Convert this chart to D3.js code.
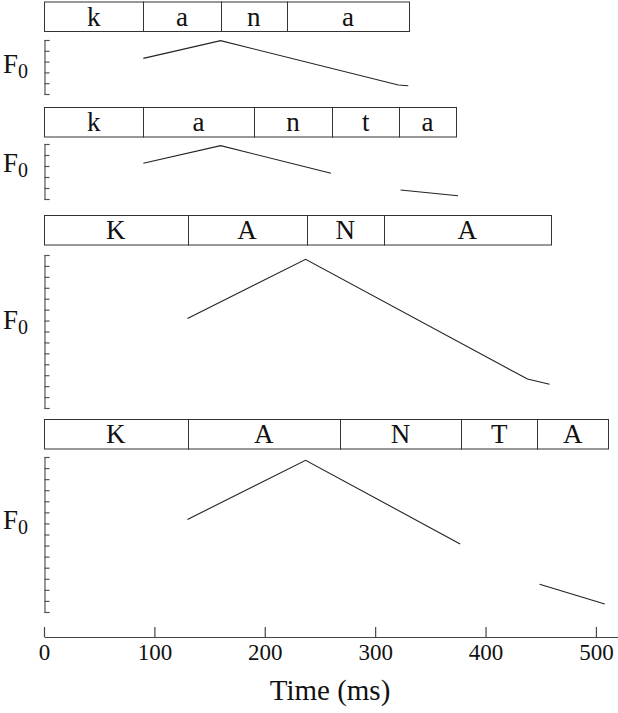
<!DOCTYPE html>
<html lang="en">
<head>
<meta charset="UTF-8">
<title>F0 contours - kana / kanta</title>
<script src="https://cdnjs.cloudflare.com/ajax/libs/d3/7.8.5/d3.min.js"></script>
<style>
  body { margin: 0; background: #fff; }
  svg { display: block; }
  text { font-family: "Liberation Serif", "Times New Roman", Times, serif !important; fill: #111; }
  .seg rect { fill: none; stroke: #333; stroke-width: 1; }
  .f0axis path, .f0axis line { stroke: #555; stroke-width: 1.2; }
  .xaxis path, .xaxis line { stroke: #444; stroke-width: 1.2; }
  .xaxis text { font-size: 23px; }
  .contour { fill: none; stroke: #222; stroke-width: 1.1; }
</style>
</head>
<body>
<svg width="618" height="713"></svg>
<script>
// segment labels and boundaries (ms)
var kanaLabels = ["k", "a", "n", "a"];
var kanaEdges = [0, 90, 160, 220, 331];
var kantaLabels = ["k", "a", "n", "t", "a"];
var kantaEdges = [0, 90, 190, 261, 322, 373];
var KANALabels = ["K", "A", "N", "A"];
var KANAEdges = [0, 130, 238, 308, 459];
var KANTALabels = ["K", "A", "N", "T", "A"];
var KANTAEdges = [0, 130, 268, 378, 447, 511];

// F0 contours: list of voiced stretches, each [time ms, F0 units]
var kanaF0 = [[[90, 33], [160, 49.4], [321, 8.3], [330, 7.7]]];
var kantaF0 = [[[90, 32.5], [160, 48.5], [260, 23.4]], [[323, 8.2], [375, 3]]];
var KANAF0 = [[[130, 82], [237, 136], [438, 26.5], [458, 21.7]]];
var KANTAF0 = [[[130, 83.6], [237, 137], [377, 61.5]], [[449, 25], [508, 7.3]]];

var timeTicks = [0, 100, 200, 300, 400, 500];

// layout of the four panels (pixels)
var layout = [
  { boxTop: 2, axisTop: 40, axisBottom: 94, f0Max: 50, labelY: 73 },
  { boxTop: 107.5, axisTop: 144, axisBottom: 199, f0Max: 50, labelY: 172 },
  { boxTop: 215.5, axisTop: 255, axisBottom: 408, f0Max: 140, labelY: 329 },
  { boxTop: 419.5, axisTop: 457, axisBottom: 612, f0Max: 140, labelY: 529 }
];

var panels = [
  { labels: kanaLabels, edges: kanaEdges, f0: kanaF0 },
  { labels: kantaLabels, edges: kantaEdges, f0: kantaF0 },
  { labels: KANALabels, edges: KANAEdges, f0: KANAF0 },
  { labels: KANTALabels, edges: KANTAEdges, f0: KANTAF0 }
];

var svg = d3.select("svg");
var x = d3.scaleLinear().domain([0, 520]).range([44, 618]);
var boxH = 29.5;

panels.forEach(function (p, i) {
  var L = layout[i];
  var y = d3.scaleLinear().domain([0, L.f0Max]).range([L.axisBottom, L.axisTop]);
  var g = svg.append("g");

  // segment boxes
  var segs = p.labels.map(function (lab, j) {
    return { label: lab, start: p.edges[j], end: p.edges[j + 1] };
  });
  var sg = g.selectAll("g.seg").data(segs).enter().append("g").attr("class", "seg");
  sg.append("rect")
    .attr("x", function (d) { return Math.round(x(d.start)) + 0.5; })
    .attr("y", L.boxTop)
    .attr("width", function (d) { return Math.round(x(d.end)) - Math.round(x(d.start)); })
    .attr("height", boxH);
  sg.append("text")
    .attr("x", function (d) { return (x(d.start) + x(d.end)) / 2; })
    .attr("y", L.boxTop + boxH - 6)
    .attr("text-anchor", "middle")
    .style("font-size", "27px")
    .text(function (d) { return d.label; });

  // F0 axis (ticks only)
  g.append("g").attr("class", "f0axis")
    .attr("transform", "translate(" + (x(0) + 0.5) + ",0)")
    .call(d3.axisRight(y).tickValues(d3.range(0, L.f0Max + 1, 10))
      .tickSize(5).tickFormat(""));

  // F0 label
  var t = g.append("text").attr("x", 3).attr("y", L.labelY).style("font-size", "27px");
  t.append("tspan").text("F");
  t.append("tspan").attr("dy", 5).style("font-size", "20px").text("0");

  // contour
  var line = d3.line().x(function (d) { return x(d[0]); }).y(function (d) { return y(d[1]); });
  g.selectAll("path.contour").data(p.f0).enter().append("path")
    .attr("class", "contour").attr("d", line);
});

// time axis
var xAxis = d3.axisBottom(x).tickValues(timeTicks).tickSizeInner(-10).tickSizeOuter(0).tickPadding(7);
svg.append("g").attr("class", "xaxis")
  .attr("transform", "translate(0,637)")
  .call(xAxis)
  .attr("font-family", null).attr("font-size", null);

svg.append("text")
  .attr("x", 330).attr("y", 700)
  .attr("text-anchor", "middle")
  .style("font-size", "29px")
  .text("Time (ms)");
</script>
</body>
</html>
